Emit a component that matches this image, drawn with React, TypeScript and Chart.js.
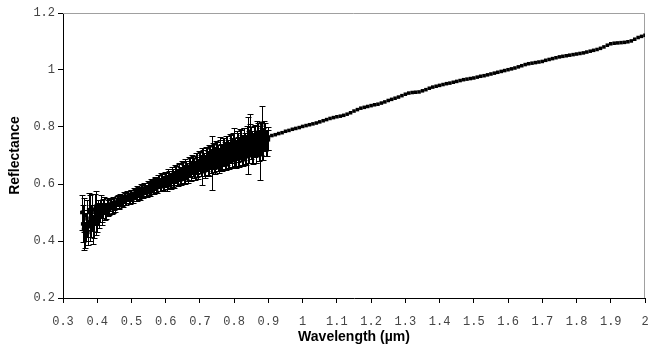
import React, { useEffect, useRef } from "react";
import { Chart, registerables } from "chart.js";

Chart.register(...registerables);

// Visible spectrum, set A (with error bars)
const VIS_WL = [
  0.355, 0.36, 0.365, 0.37, 0.375, 0.38, 0.385, 0.39, 0.395, 0.4,
  0.405, 0.41, 0.415, 0.42, 0.425, 0.43, 0.435, 0.44, 0.445, 0.45,
  0.455, 0.46, 0.465, 0.47, 0.475, 0.48, 0.485, 0.49, 0.495, 0.5,
  0.505, 0.51, 0.515, 0.52, 0.525, 0.53, 0.535, 0.54, 0.545, 0.55,
  0.555, 0.56, 0.565, 0.57, 0.575, 0.58, 0.585, 0.59, 0.595, 0.6,
  0.605, 0.61, 0.615, 0.62, 0.625, 0.63, 0.635, 0.64, 0.645, 0.65,
  0.655, 0.66, 0.665, 0.67, 0.675, 0.68, 0.685, 0.69, 0.695, 0.7,
  0.705, 0.71, 0.715, 0.72, 0.725, 0.73, 0.735, 0.74, 0.745, 0.75,
  0.755, 0.76, 0.765, 0.77, 0.775, 0.78, 0.785, 0.79, 0.795, 0.8,
  0.805, 0.81, 0.815, 0.82, 0.825, 0.83, 0.835, 0.84, 0.845, 0.85,
  0.855, 0.86, 0.865, 0.87, 0.875, 0.88, 0.885, 0.89, 0.895, 0.9,
];
const VIS_R = [
  0.50, 0.44, 0.42, 0.48, 0.51, 0.45, 0.50, 0.46, 0.52, 0.48,
  0.49, 0.52, 0.50, 0.525, 0.505, 0.52, 0.512, 0.532, 0.518, 0.53,
  0.532, 0.542, 0.530, 0.545, 0.538, 0.552, 0.545, 0.557, 0.548, 0.56,
  0.552, 0.566, 0.558, 0.573, 0.565, 0.578, 0.57, 0.584, 0.576, 0.588,
  0.578, 0.594, 0.586, 0.6, 0.59, 0.608, 0.596, 0.612, 0.6, 0.614,
  0.602, 0.62, 0.608, 0.626, 0.614, 0.634, 0.62, 0.64, 0.626, 0.645,
  0.63, 0.65, 0.636, 0.658, 0.642, 0.664, 0.648, 0.672, 0.652, 0.676,
  0.66, 0.68, 0.662, 0.686, 0.67, 0.692, 0.675, 0.698, 0.68, 0.702,
  0.682, 0.705, 0.69, 0.712, 0.695, 0.718, 0.7, 0.722, 0.705, 0.728,
  0.705, 0.728, 0.71, 0.735, 0.715, 0.74, 0.72, 0.735, 0.785, 0.745,
  0.725, 0.75, 0.73, 0.755, 0.71, 0.81, 0.74, 0.765, 0.745, 0.755,
];
const VIS_ERR = [
  0.06, 0.07, 0.045, 0.065, 0.06, 0.05, 0.065, 0.05, 0.055, 0.05,
  0.045, 0.04, 0.035, 0.03, 0.028, 0.025, 0.022, 0.02, 0.02, 0.02,
  0.018, 0.018, 0.017, 0.018, 0.017, 0.018, 0.017, 0.018, 0.017, 0.018,
  0.018, 0.018, 0.019, 0.018, 0.02, 0.019, 0.02, 0.019, 0.02, 0.02,
  0.02, 0.021, 0.02, 0.022, 0.021, 0.023, 0.022, 0.024, 0.023, 0.025,
  0.025, 0.026, 0.027, 0.028, 0.027, 0.029, 0.028, 0.03, 0.029, 0.031,
  0.03, 0.032, 0.031, 0.034, 0.032, 0.035, 0.033, 0.036, 0.035, 0.037,
  0.065, 0.038, 0.04, 0.04, 0.042, 0.04, 0.095, 0.044, 0.045, 0.046,
  0.045, 0.06, 0.046, 0.048, 0.047, 0.05, 0.048, 0.05, 0.049, 0.07,
  0.05, 0.052, 0.05, 0.055, 0.052, 0.055, 0.053, 0.1, 0.06, 0.056,
  0.055, 0.056, 0.055, 0.058, 0.095, 0.064, 0.055, 0.05, 0.045, 0.035,
];

// Visible spectrum, set B (interleaved samples, with error bars)
const VIS_WL_B = [
  0.3575, 0.3625, 0.3675, 0.3725, 0.3775, 0.3825, 0.3875, 0.3925, 0.3975, 0.4025,
  0.4075, 0.4125, 0.4175, 0.4225, 0.4275, 0.4325, 0.4375, 0.4425, 0.4475, 0.4525,
  0.4575, 0.4625, 0.4675, 0.4725, 0.4775, 0.4825, 0.4875, 0.4925, 0.4975, 0.5025,
  0.5075, 0.5125, 0.5175, 0.5225, 0.5275, 0.5325, 0.5375, 0.5425, 0.5475, 0.5525,
  0.5575, 0.5625, 0.5675, 0.5725, 0.5775, 0.5825, 0.5875, 0.5925, 0.5975, 0.6025,
  0.6075, 0.6125, 0.6175, 0.6225, 0.6275, 0.6325, 0.6375, 0.6425, 0.6475, 0.6525,
  0.6575, 0.6625, 0.6675, 0.6725, 0.6775, 0.6825, 0.6875, 0.6925, 0.6975, 0.7025,
  0.7075, 0.7125, 0.7175, 0.7225, 0.7275, 0.7325, 0.7375, 0.7425, 0.7475, 0.7525,
  0.7575, 0.7625, 0.7675, 0.7725, 0.7775, 0.7825, 0.7875, 0.7925, 0.7975, 0.8025,
  0.8075, 0.8125, 0.8175, 0.8225, 0.8275, 0.8325, 0.8375, 0.8425, 0.8475, 0.8525,
  0.8575, 0.8625, 0.8675, 0.8725, 0.8775, 0.8825, 0.8875, 0.8925, 0.8975,
];
const VIS_R_B = [
  0.46, 0.49, 0.45, 0.43, 0.50, 0.47, 0.44, 0.51, 0.47, 0.50,
  0.505, 0.495, 0.515, 0.505, 0.525, 0.51, 0.526, 0.515, 0.535, 0.522,
  0.54, 0.534, 0.548, 0.54, 0.553, 0.543, 0.557, 0.55, 0.562, 0.553,
  0.568, 0.56, 0.574, 0.566, 0.58, 0.572, 0.586, 0.578, 0.59, 0.582,
  0.596, 0.588, 0.603, 0.594, 0.608, 0.598, 0.614, 0.603, 0.618, 0.607,
  0.624, 0.612, 0.63, 0.618, 0.636, 0.624, 0.643, 0.63, 0.648, 0.634,
  0.655, 0.642, 0.662, 0.648, 0.668, 0.655, 0.675, 0.66, 0.68, 0.664,
  0.685, 0.668, 0.69, 0.674, 0.695, 0.68, 0.7, 0.685, 0.706, 0.69,
  0.71, 0.695, 0.715, 0.7, 0.72, 0.705, 0.725, 0.71, 0.73, 0.712,
  0.735, 0.715, 0.74, 0.72, 0.745, 0.725, 0.75, 0.73, 0.755, 0.73,
  0.75, 0.73, 0.76, 0.735, 0.76, 0.74, 0.77, 0.745, 0.76,
];
const VIS_ERR_B = [
  0.065, 0.06, 0.05, 0.045, 0.06, 0.055, 0.05, 0.055, 0.05, 0.045,
  0.04, 0.038, 0.033, 0.03, 0.027, 0.024, 0.022, 0.02, 0.02, 0.019,
  0.018, 0.018, 0.018, 0.018, 0.018, 0.018, 0.018, 0.018, 0.018, 0.018,
  0.019, 0.019, 0.019, 0.019, 0.019, 0.019, 0.019, 0.019, 0.019, 0.02,
  0.021, 0.022, 0.022, 0.022, 0.023, 0.023, 0.023, 0.024, 0.024, 0.025,
  0.027, 0.027, 0.028, 0.028, 0.029, 0.029, 0.03, 0.03, 0.031, 0.031,
  0.032, 0.033, 0.033, 0.034, 0.034, 0.035, 0.035, 0.036, 0.036, 0.037,
  0.04, 0.04, 0.041, 0.042, 0.042, 0.043, 0.044, 0.044, 0.045, 0.046,
  0.046, 0.047, 0.047, 0.048, 0.048, 0.049, 0.049, 0.05, 0.05, 0.05,
  0.05, 0.051, 0.052, 0.052, 0.053, 0.054, 0.054, 0.055, 0.055, 0.056,
  0.055, 0.055, 0.06, 0.055, 0.058, 0.055, 0.05, 0.045, 0.04,
];

// Near-infrared spectrum
const NIR_WL = [
  0.9, 0.91, 0.92, 0.93, 0.94, 0.95, 0.96, 0.97, 0.98, 0.99,
  1.0, 1.01, 1.02, 1.03, 1.04, 1.05, 1.06, 1.07, 1.08, 1.09,
  1.1, 1.11, 1.12, 1.13, 1.14, 1.15, 1.16, 1.17, 1.18, 1.19,
  1.2, 1.21, 1.22, 1.23, 1.24, 1.25, 1.26, 1.27, 1.28, 1.29,
  1.3, 1.31, 1.32, 1.33, 1.34, 1.35, 1.36, 1.37, 1.38, 1.39,
  1.4, 1.41, 1.42, 1.43, 1.44, 1.45, 1.46, 1.47, 1.48, 1.49,
  1.5, 1.51, 1.52, 1.53, 1.54, 1.55, 1.56, 1.57, 1.58, 1.59,
  1.6, 1.61, 1.62, 1.63, 1.64, 1.65, 1.66, 1.67, 1.68, 1.69,
  1.7, 1.71, 1.72, 1.73, 1.74, 1.75, 1.76, 1.77, 1.78, 1.79,
  1.8, 1.81, 1.82, 1.83, 1.84, 1.85, 1.86, 1.87, 1.88, 1.89,
  1.9, 1.91, 1.92, 1.93, 1.94, 1.95, 1.96, 1.97, 1.98, 1.99, 2.0,
];
const NIR_R = [
  0.765, 0.770, 0.773, 0.777, 0.780, 0.785, 0.788, 0.792, 0.795, 0.798,
  0.802, 0.805, 0.808, 0.811, 0.814, 0.818, 0.822, 0.826, 0.830, 0.833,
  0.836, 0.838, 0.841, 0.845, 0.850, 0.856, 0.861, 0.866, 0.869, 0.872,
  0.875, 0.878, 0.880, 0.884, 0.888, 0.893, 0.897, 0.901, 0.905, 0.910,
  0.915, 0.919, 0.921, 0.922, 0.923, 0.927, 0.931, 0.936, 0.940, 0.943,
  0.946, 0.949, 0.952, 0.954, 0.957, 0.960, 0.963, 0.966, 0.968, 0.970,
  0.972, 0.975, 0.978, 0.980, 0.983, 0.986, 0.989, 0.992, 0.995, 0.998,
  1.001, 1.004, 1.007, 1.011, 1.015, 1.019, 1.022, 1.024, 1.026, 1.028,
  1.030, 1.034, 1.037, 1.040, 1.043, 1.046, 1.048, 1.050, 1.052, 1.054,
  1.056, 1.058, 1.060, 1.063, 1.066, 1.069, 1.072, 1.076, 1.081, 1.087,
  1.092, 1.094, 1.095, 1.096, 1.097, 1.099, 1.102, 1.108, 1.114, 1.118, 1.122,
];

const X_TICKS = [0.3, 0.4, 0.5, 0.6, 0.7, 0.8, 0.9, 1, 1.1, 1.2, 1.3, 1.4, 1.5, 1.6, 1.7, 1.8, 1.9, 2];
const Y_TICKS = [0.2, 0.4, 0.6, 0.8, 1, 1.2];

const X_TITLE = "Wavelength (\u00b5m)";
const Y_TITLE = "Reflectance";

const ERROR_SETS = [
  { wl: VIS_WL, r: VIS_R, e: VIS_ERR },
  { wl: VIS_WL_B, r: VIS_R_B, e: VIS_ERR_B },
];

const frameAndErrors = {
  id: "frameAndErrors",
  beforeDatasetsDraw(chart: any) {
    const { ctx, chartArea } = chart;
    ctx.save();
    ctx.strokeStyle = "#a0a0a0";
    ctx.lineWidth = 1;
    ctx.beginPath();
    ctx.moveTo(chartArea.left, chartArea.top + 0.5);
    ctx.lineTo(chartArea.right - 0.5, chartArea.top + 0.5);
    ctx.lineTo(chartArea.right - 0.5, chartArea.bottom);
    ctx.stroke();
    ctx.restore();
  },
  afterDatasetsDraw(chart: any) {
    const { ctx } = chart;
    const x = chart.scales.x;
    const y = chart.scales.y;
    ctx.save();
    ctx.strokeStyle = "#000";
    ctx.lineWidth = 1;
    ctx.beginPath();
    ERROR_SETS.forEach((set) => {
      set.wl.forEach((w, i) => {
        const px = Math.round(x.getPixelForValue(w)) + 0.5;
        const top = Math.round(y.getPixelForValue(set.r[i] + set.e[i])) + 0.5;
        const bot = Math.round(y.getPixelForValue(set.r[i] - set.e[i])) + 0.5;
        ctx.moveTo(px, top);
        ctx.lineTo(px, bot);
        ctx.moveTo(px - 3, top);
        ctx.lineTo(px + 3, top);
        ctx.moveTo(px - 3, bot);
        ctx.lineTo(px + 3, bot);
      });
    });
    ctx.stroke();
    ctx.restore();
  },
};

export default function App() {
  const ref = useRef<HTMLCanvasElement | null>(null);

  useEffect(() => {
    if (!ref.current) return;
    const tickFont = { family: "'Liberation Mono', 'DejaVu Sans Mono', monospace", size: 12 };
    const titleFont = { family: "'Liberation Sans', Arial, sans-serif", size: 14, weight: "bold" as const };
    const pointStyle = {
      pointStyle: "rect" as const,
      backgroundColor: "#000",
      borderColor: "#000",
      borderWidth: 0,
      showLine: false,
    };
    const chart = new Chart(ref.current, {
      type: "scatter",
      data: {
        datasets: [
          {
            label: "Visible A",
            data: VIS_WL.map((w, i) => ({ x: w, y: VIS_R[i] })),
            pointRadius: 2.5,
            ...pointStyle,
          },
          {
            label: "Visible B",
            data: VIS_WL_B.map((w, i) => ({ x: w, y: VIS_R_B[i] })),
            pointRadius: 2.5,
            ...pointStyle,
          },
          {
            label: "Near-IR",
            data: NIR_WL.map((w, i) => ({ x: w, y: NIR_R[i] })),
            pointRadius: 2.5,
            ...pointStyle,
          },
        ],
      },
      options: {
        responsive: false,
        animation: false,
        events: [],
        layout: { padding: { top: 13, right: 2, bottom: 0, left: 0 } },
        plugins: {
          legend: { display: false },
          tooltip: { enabled: false },
          title: { display: false },
        },
        scales: {
          x: {
            type: "linear",
            min: 0.3,
            max: 2,
            afterBuildTicks: (s: any) => {
              s.ticks = X_TICKS.map((v) => ({ value: v }));
            },
            afterFit: (s: any) => {
              s.height = 56;
              s.paddingLeft = 0;
              s.paddingRight = 0;
            },
            grid: { drawOnChartArea: false, drawTicks: true, tickLength: 5, color: "#000" },
            border: { display: true, color: "#000", width: 1 },
            ticks: {
              font: tickFont,
              color: "#444",
              padding: 12,
              maxRotation: 0,
              autoSkip: false,
              callback: (v: any) => String(v),
            },
            title: {
              display: true,
              text: X_TITLE,
              font: titleFont,
              color: "#000",
              padding: { top: 4, bottom: 8 },
            },
          },
          y: {
            type: "linear",
            min: 0.2,
            max: 1.2,
            afterBuildTicks: (s: any) => {
              s.ticks = Y_TICKS.map((v) => ({ value: v }));
            },
            afterFit: (s: any) => {
              s.width = 63;
              s.paddingTop = 0;
              s.paddingBottom = 0;
            },
            grid: { drawOnChartArea: false, drawTicks: true, tickLength: 5, color: "#000" },
            border: { display: true, color: "#000", width: 1 },
            ticks: {
              font: tickFont,
              color: "#444",
              padding: 3,
              autoSkip: false,
              callback: (v: any) => String(v),
            },
            title: {
              display: true,
              text: Y_TITLE,
              font: titleFont,
              color: "#000",
              padding: { top: 7, bottom: 4 },
            },
          },
        },
      },
      plugins: [frameAndErrors],
    });
    return () => chart.destroy();
  }, []);

  return (
    <div style={{ position: "fixed", left: 0, top: 0, width: 649, height: 354, background: "#fff" }}>
      <canvas ref={ref} width={649} height={354} style={{ display: "block" }} />
    </div>
  );
}
